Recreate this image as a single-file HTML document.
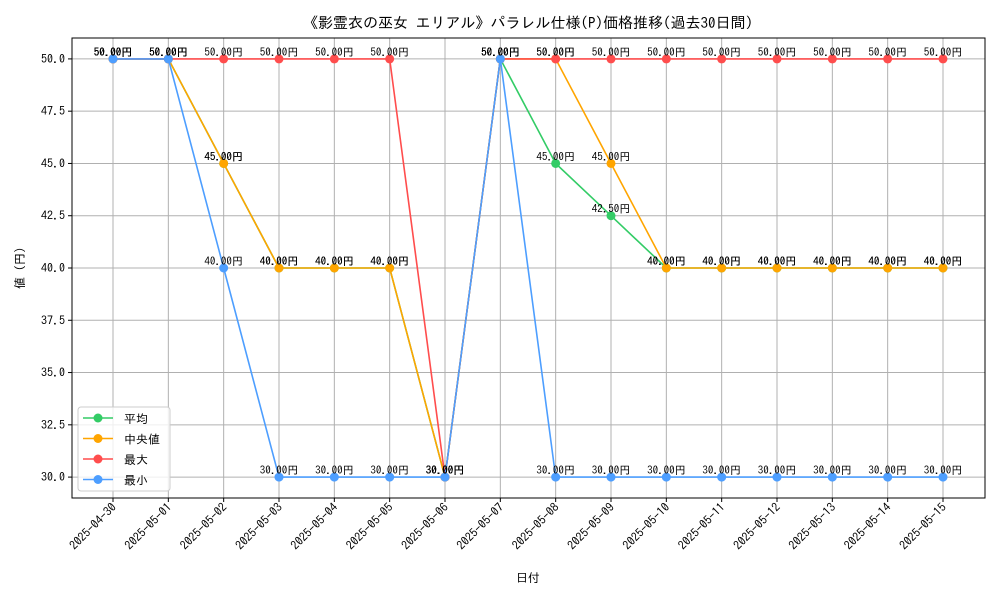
<!DOCTYPE html>
<html><head><meta charset="utf-8"><style>
body{margin:0;background:#fff}
svg text{font-family:"IPAGothic","Noto Sans CJK JP",sans-serif}
</style></head><body>
<svg id="c" width="1000" height="600" xmlns="http://www.w3.org/2000/svg">
<rect width="1000" height="600" fill="#fff"/>
<text x="528" y="28" text-anchor="middle" font-size="15" fill="#000">《影霊衣の巫女 エリアル》パラレル仕様(P)価格推移(過去30日間)</text>
<text x="528" y="582" text-anchor="middle" font-size="12">日付</text>
<text transform="translate(24,268) rotate(-90)" text-anchor="middle" font-size="12">値 (円)</text>
<g id="grid"></g><g id="series"></g><g id="ticks"></g>
<rect x="72" y="38" width="913" height="460" fill="none" stroke="#000" stroke-width="1"/>
<g id="legend"></g>
</svg>
<script>
const dates=["2025-04-30","2025-05-01","2025-05-02","2025-05-03","2025-05-04","2025-05-05","2025-05-06","2025-05-07","2025-05-08","2025-05-09","2025-05-10","2025-05-11","2025-05-12","2025-05-13","2025-05-14","2025-05-15"];
const avgVals=[50,50,45,40,40,40,30,50,45,42.5,40,40,40,40,40,40];
const medianVals=[50,50,45,40,40,40,30,50,50,45,40,40,40,40,40,40];
const maxVals=[50,50,50,50,50,50,30,50,50,50,50,50,50,50,50,50];
const minVals=[50,50,40,30,30,30,30,50,30,30,30,30,30,30,30,30];
const yTicks=[30,32.5,35,37.5,40,42.5,45,47.5,50];
const seriesNames=["平均","中央値","最大","最小"];
const NS="http://www.w3.org/2000/svg";
const L=72,R=985,T=38,B=498,yMin=29,yMax=51;
const n=dates.length;
function x(i){const pad=(R-L)*0.04388;return 113+i*(943-113)/(n-1);}
function y(v){return B-(v-yMin)/(yMax-yMin)*(B-T);}
function mk(t,a,p){const e=document.createElementNS(NS,t);for(const k in a)e.setAttribute(k,a[k]);p.appendChild(e);return e;}
const grid=document.getElementById('grid'),ticks=document.getElementById('ticks'),sg=document.getElementById('series');
yTicks.forEach(v=>{
 const l=mk('line',{x1:L,x2:R,y1:y(v),y2:y(v),stroke:'#b0b0b0','stroke-width':1},grid);
 
 
 mk('line',{x1:L-4,x2:L,y1:y(v),y2:y(v),stroke:'#000'},ticks);
 const t=mk('text',{x:L-7,y:y(v)+4,'text-anchor':'end','font-size':12},ticks);
 t.textContent=v.toFixed(1);
 
 
});
dates.forEach((d,i)=>{
 const l=mk('line',{x1:x(i),x2:x(i),y1:T,y2:B,stroke:'#b0b0b0','stroke-width':1},grid);
 
 
 mk('line',{x1:x(i),x2:x(i),y1:B,y2:B+4,stroke:'#000'},ticks);
 const t=mk('text',{transform:`translate(${x(i)+4},${B+10}) rotate(-45)`,'text-anchor':'end','font-size':12},ticks);
 t.textContent=d;
 
 
});
const all=[avgVals,medianVals,maxVals,minVals];
const colors=["#33cc66","#ffa500","#ff4d4d","#4d9eff"];
all.forEach((vals,s)=>{
 const g=mk('g',{},sg);
 
 
 const pl=mk('polyline',{points:vals.map((v,i)=>x(i)+','+y(v)).join(' '),fill:'none',stroke:colors[s],'stroke-width':1.6},g);
 
 
 vals.forEach((v,i)=>{
  const c=mk('circle',{cx:x(i),cy:y(v),r:4.5,fill:colors[s]},g);
  
  
 });
});
all.forEach((vals,s)=>{vals.forEach((v,i)=>{
 const t=mk('text',{x:x(i),y:y(v)-3,'text-anchor':'middle','font-size':11},sg);
 t.textContent=v.toFixed(2)+'円';
 
 
});});
const lg=document.getElementById('legend');
mk('rect',{x:78,y:407,width:92,height:84,rx:3,fill:'#fff','fill-opacity':0.8,stroke:'#ccc'},lg);
seriesNames.forEach((nm,s)=>{
 const yy=418+s*20.5;
 const e=mk('g',{},lg);
 
 
 mk('line',{x1:83,x2:113,y1:yy,y2:yy,stroke:colors[s],'stroke-width':1.6},e);
 mk('circle',{cx:98,cy:yy,r:4.5,fill:colors[s]},e);
 const t=mk('text',{x:124,y:yy+5,'font-size':12},e);
 t.textContent=nm;
});
</script>
</body></html>
